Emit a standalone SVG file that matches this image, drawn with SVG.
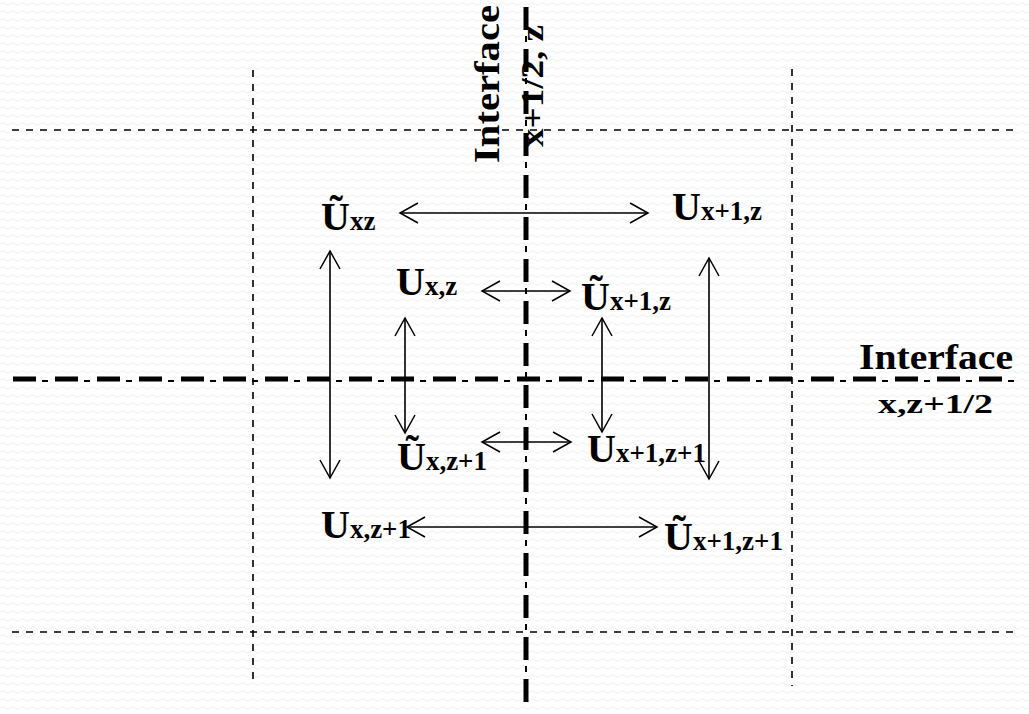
<svg xmlns="http://www.w3.org/2000/svg" width="1029" height="714" viewBox="0 0 1029 714">
<defs>
<pattern id="bg" width="10" height="8" patternUnits="userSpaceOnUse">
<path d="M0,4 Q2.5,1 5,4 T10,4" fill="none" stroke="#efefef" stroke-width="1"/>
</pattern>
<marker id="ah" markerUnits="userSpaceOnUse" markerWidth="24" markerHeight="24" viewBox="-20 -12 24 24" refX="0" refY="0" orient="auto-start-reverse">
<path d="M-18,-10 L0,0 L-18,10" fill="none" stroke="#000" stroke-width="1.5"/>
</marker>
</defs>
<style>
.thin{stroke:#000;stroke-width:1.6;stroke-dasharray:7 7;fill:none}
.thickA{stroke:#000;stroke-width:5;stroke-dasharray:23 19;fill:none}
.thickB{stroke:#000;stroke-width:2;stroke-dasharray:6 36;stroke-dashoffset:13;fill:none}
.arr{stroke:#000;stroke-width:1.6;fill:none;marker-start:url(#ah);marker-end:url(#ah)}
text{font-family:"Liberation Serif","DejaVu Serif",serif;font-weight:bold;fill:#000}
.big{font-size:40px}
.sub{font-size:27px}
</style>
<rect width="1029" height="714" fill="#fff"/>
<rect width="1029" height="714" fill="url(#bg)"/>
<g id="grid">
<line class="thin" x1="12" y1="130" x2="1020" y2="130"/>
<line class="thin" x1="12" y1="632" x2="1020" y2="632"/>
<line class="thin" x1="253" y1="70" x2="253" y2="682"/>
<line class="thin" x1="792" y1="69" x2="792" y2="686"/>
</g>
<g id="interfaces">
<line class="thickA" x1="13" y1="379" x2="1021" y2="379"/>
<line class="thickB" x1="13" y1="381" x2="1021" y2="381"/>
<line class="thickA" x1="526" y1="7" x2="526" y2="706"/>
<line class="thickB" x1="526" y1="7" x2="526" y2="706"/>
</g>
<g id="connectors">
<line class="arr" x1="400" y1="213" x2="648" y2="213"/>
<line class="arr" x1="482" y1="291" x2="570" y2="291"/>
<line class="arr" x1="482" y1="442" x2="571" y2="442"/>
<line class="arr" x1="407" y1="527" x2="657" y2="527"/>
<line class="arr" x1="330" y1="251" x2="330" y2="478"/>
<line class="arr" x1="709" y1="258" x2="709" y2="479"/>
<line class="arr" x1="405" y1="318" x2="405" y2="433"/>
<line class="arr" x1="602" y1="318" x2="602" y2="432"/>
</g>
<g id="label-interface-x">
<text transform="translate(499,163) rotate(-90)" font-size="35" textLength="158" lengthAdjust="spacingAndGlyphs">Interface</text>
<text transform="translate(543,147) rotate(-90)" font-size="31" textLength="122" lengthAdjust="spacingAndGlyphs">x+1/2, z</text>
</g>
<g id="label-interface-z">
<text x="859" y="369" font-size="35" textLength="154" lengthAdjust="spacingAndGlyphs">Interface</text>
<text x="878" y="413" font-size="27" textLength="115" lengthAdjust="spacingAndGlyphs">x,z+1/2</text>
</g>
<g id="n-Ut-xz"><text x="321" y="230"><tspan class="big">Ũ</tspan><tspan class="sub">xz</tspan></text></g>
<g id="n-U-x1z"><text x="672" y="220"><tspan class="big">U</tspan><tspan class="sub">x+1,z</tspan></text></g>
<g id="n-U-xz"><text x="396" y="295"><tspan class="big">U</tspan><tspan class="sub">x,z</tspan></text></g>
<g id="n-Ut-x1z"><text x="581" y="310"><tspan class="big">Ũ</tspan><tspan class="sub">x+1,z</tspan></text></g>
<g id="n-Ut-xz1"><text x="397" y="470"><tspan class="big">Ũ</tspan><tspan class="sub">x,z+1</tspan></text></g>
<g id="n-U-x1z1"><text x="587" y="462"><tspan class="big">U</tspan><tspan class="sub">x+1,z+1</tspan></text></g>
<g id="n-U-xz1"><text x="321" y="538"><tspan class="big">U</tspan><tspan class="sub">x,z+1</tspan></text></g>
<g id="n-Ut-x1z1"><text x="664" y="550"><tspan class="big">Ũ</tspan><tspan class="sub">x+1,z+1</tspan></text></g>
</svg>
